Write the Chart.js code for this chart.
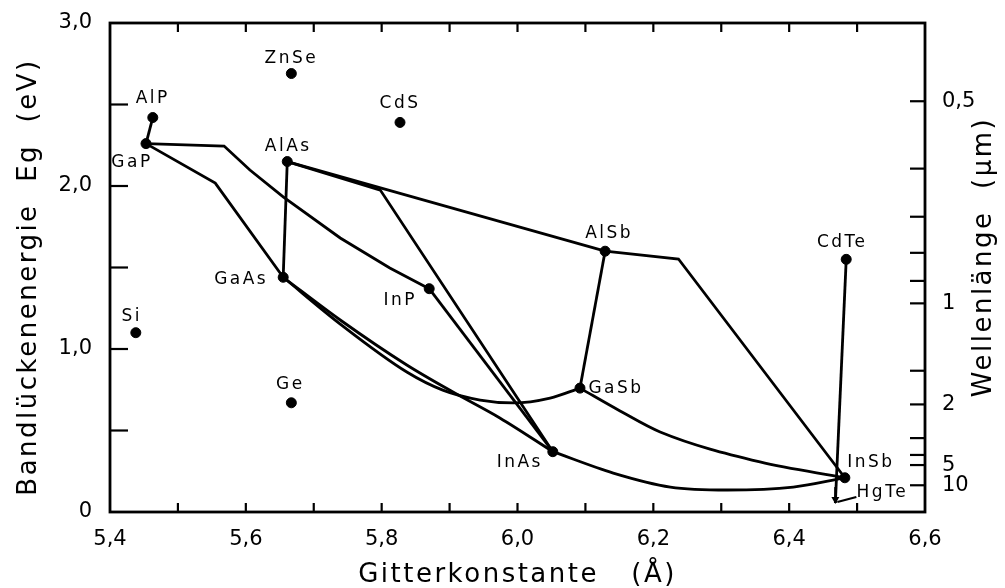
<!DOCTYPE html>
<html>
<head>
<meta charset="utf-8">
<script src="https://cdn.jsdelivr.net/npm/chart.js@4.4.1/dist/chart.umd.min.js"></script>
<style>
  html, body { margin: 0; padding: 0; background: #fff; }
  #wrap { width: 1005px; height: 588px; position: relative; }
</style>
</head>
<body>
<div id="wrap"><canvas id="chart"></canvas></div>
<script>
// Verbindungen: Gitterkonstante (Å) und Bandlücke (eV)
const compounds    = ['AlP', 'GaP', 'ZnSe', 'AlAs', 'CdS', 'Si', 'GaAs', 'Ge', 'InP', 'AlSb', 'GaSb', 'InAs', 'CdTe', 'InSb', 'HgTe'];
const latticeConst = [5.463, 5.453, 5.667, 5.661, 5.827, 5.438, 5.655, 5.667, 5.870, 6.129, 6.092, 6.052, 6.484, 6.482, 6.468];
const bandGap      = [2.42, 2.26, 2.69, 2.15, 2.39, 1.10, 1.44, 0.67, 1.37, 1.60, 0.76, 0.37, 1.55, 0.21, 0.055];

// Mischkristall-Linien [a, Eg]
const lineAlPGaP   = [[5.463, 2.42], [5.453, 2.26]];
const lineGaPInP   = [[5.453, 2.26], [5.568, 2.245], [5.606, 2.098], [5.655, 1.933], [5.739, 1.681], [5.812, 1.497], [5.870, 1.37]];
const lineGaPGaAs  = [[5.453, 2.26], [5.555, 2.018], [5.655, 1.44]];
const lineAlAsGaAs = [[5.661, 2.15], [5.655, 1.44]];
const lineAlAsAlSb = [[5.661, 2.15], [6.129, 1.60]];
const lineAlAsInAs = [[5.661, 2.15], [5.798, 1.975], [6.052, 0.37]];
const lineInPInAs  = [[5.870, 1.37], [6.052, 0.37]];
const lineAlSbGaSb = [[6.129, 1.60], [6.092, 0.76]];
const lineAlSbInSb = [[6.129, 1.60], [6.237, 1.552], [6.482, 0.21]];
const lineCdTeHgTe = [[6.484, 1.55], [6.468, 0.055]];
const curveGaAsInAs = [[5.655, 1.44], [5.739, 1.178], [5.837, 0.902], [5.905, 0.736], [5.974, 0.577], [6.052, 0.37]];
const curveGaAsGaSb = [[5.655, 1.44], [5.739, 1.153], [5.837, 0.859], [5.890, 0.748], [5.945, 0.687], [5.994, 0.669], [6.048, 0.699], [6.092, 0.76]];
const curveGaSbInSb = [[6.092, 0.76], [6.151, 0.620], [6.210, 0.491], [6.357, 0.307], [6.482, 0.21]];
const curveInAsInSb = [[6.052, 0.37], [6.141, 0.239], [6.225, 0.153], [6.309, 0.135], [6.406, 0.153], [6.482, 0.21]];

// Achsen
const xTickLabels = [5.4, 5.6, 5.8, 6.0, 6.2, 6.4, 6.6];
const yTickLabels = [0, 1, 2, 3];
const waveTicks   = [0.5, 0.6, 0.7, 0.8, 0.9, 1, 1.5, 2, 3, 4, 5, 10];
const waveLabels  = [0.5, 1, 2, 5, 10];
const waveOffset  = 0.04; // Eg = 1.24/λ, Skala im Original leicht verschoben

// Beschriftungsversatz (px) relativ zum Punkt
const labelOffsets = [[0, -19], [-14, 19], [0, -15], [1, -15], [0, -19], [-4, -16], [-42, 2], [-1, -18],
                      [-29, 12], [4, -18], [36, 0], [-33, 11], [-4, -17], [26, -15], [47, -10]];

const FONT = '"DejaVu Sans", sans-serif';
const toXY = arr => arr.map(p => ({ x: p[0], y: p[1] }));
const fmt = v => String(v).replace('.', ',');

function lineSet(pts, curved) {
    return {
        data: toXY(pts),
        showLine: true,
        borderColor: '#000',
        borderWidth: 2.8,
        pointRadius: 0,
        cubicInterpolationMode: curved ? 'monotone' : 'default',
        tension: curved ? 0.4 : 0
    };
}

// feste Achsenbreiten, ohne Zusatzabstand durch Beschriftungen
function fixWidth(w) {
    return s => { s.width = w; s.paddingTop = 0; s.paddingBottom = 0; };
}

const frameAndText = {
    id: 'frameAndText',
    afterDraw(chart) {
        const { ctx, chartArea: a, scales } = chart;
        const seg = (x1, y1, x2, y2) => { ctx.beginPath(); ctx.moveTo(x1, y1); ctx.lineTo(x2, y2); ctx.stroke(); };
        ctx.save();
        ctx.strokeStyle = '#000';
        ctx.fillStyle = '#000';
        ctx.lineWidth = 2.8;
        ctx.strokeRect(a.left, a.top, a.right - a.left, a.bottom - a.top);

        // Striche oben und unten (0,1 Å)
        ctx.lineWidth = 2.2;
        for (let i = 1; i < 12; i++) {
            const px = scales.x.getPixelForValue(5.4 + i * 0.1);
            seg(px, a.bottom, px, a.bottom - 9);
            seg(px, a.top, px, a.top + 9);
        }
        // links (0,5 eV)
        for (let i = 1; i < 6; i++) {
            const py = scales.y.getPixelForValue(i * 0.5);
            seg(a.left, py, a.left + 18, py);
        }
        // rechts Wellenlänge
        waveTicks.forEach(l => {
            const py = scales.y.getPixelForValue(1.24 / l + waveOffset);
            seg(a.right, py, a.right - 15, py);
        });

        // HgTe Pfeil
        const hx = scales.x.getPixelForValue(latticeConst[14]);
        const hy = scales.y.getPixelForValue(bandGap[14]);
        seg(hx, hy - 16, hx, hy);
        seg(hx + 21, hy - 6, hx + 2, hy - 1);
        ctx.beginPath();
        ctx.moveTo(hx, hy + 1); ctx.lineTo(hx - 4, hy - 6); ctx.lineTo(hx + 4, hy - 6); ctx.closePath();
        ctx.fill();

        // Beschriftungen der Punkte
        ctx.font = '17px ' + FONT;
        ctx.letterSpacing = '2.5px';
        ctx.textAlign = 'center';
        ctx.textBaseline = 'middle';
        compounds.forEach((name, i) => {
            const px = scales.x.getPixelForValue(latticeConst[i]) + labelOffsets[i][0];
            const py = scales.y.getPixelForValue(bandGap[i]) + labelOffsets[i][1];
            ctx.fillText(name, px, py);
        });

        // Achsentitel
        ctx.font = '26px ' + FONT;
        ctx.letterSpacing = '2.5px';
        ctx.fillText('Gitterkonstante   (Å)', (a.left + a.right) / 2, 575);
        ctx.save();
        ctx.translate(29, 277);
        ctx.rotate(-Math.PI / 2);
        ctx.fillText('Bandlückenenergie  Eg  (eV)', 0, 0);
        ctx.restore();
        ctx.save();
        ctx.translate(984, 257);
        ctx.rotate(-Math.PI / 2);
        ctx.fillText('Wellenlänge  (µm)', 0, 0);
        ctx.restore();
        ctx.restore();
    }
};

const tickFont = { family: FONT, size: 21 };

new Chart(document.getElementById('chart'), {
    type: 'scatter',
    data: {
        datasets: [
            lineSet(lineAlPGaP), lineSet(lineGaPInP), lineSet(lineGaPGaAs), lineSet(lineAlAsGaAs),
            lineSet(lineAlAsAlSb), lineSet(lineAlAsInAs), lineSet(lineInPInAs), lineSet(lineAlSbGaSb),
            lineSet(lineAlSbInSb), lineSet(lineCdTeHgTe),
            lineSet(curveGaAsInAs, true), lineSet(curveGaAsGaSb, true),
            lineSet(curveGaSbInSb, true), lineSet(curveInAsInSb, true),
            {
                data: latticeConst.slice(0, 14).map((x, i) => ({ x: x, y: bandGap[i] })),
                pointRadius: 5,
                pointBackgroundColor: '#000',
                pointBorderColor: '#000',
                showLine: false
            }
        ]
    },
    options: {
        responsive: true,
        maintainAspectRatio: false,
        animation: false,
        layout: { padding: { top: 23 } },
        plugins: {
            legend: { display: false },
            tooltip: { enabled: false }
        },
        scales: {
            x: {
                type: 'linear',
                min: 5.4,
                max: 6.6,
                afterFit: s => { s.height = 76; s.paddingLeft = 0; s.paddingRight = 0; },
                afterBuildTicks: s => { s.ticks = xTickLabels.map(v => ({ value: v })); },
                grid: { display: false, drawTicks: false },
                border: { display: false },
                ticks: { padding: 15, color: '#000', font: tickFont, autoSkip: false, maxRotation: 0,
                         callback: v => v.toFixed(1).replace('.', ',') }
            },
            y: {
                min: 0,
                max: 3,
                afterFit: fixWidth(110),
                afterBuildTicks: s => { s.ticks = yTickLabels.map(v => ({ value: v })); },
                grid: { display: false, drawTicks: false },
                border: { display: false },
                ticks: { padding: 18, color: '#000', font: tickFont,
                         callback: v => v === 0 ? '0' : v.toFixed(1).replace('.', ',') }
            },
            y2: {
                position: 'right',
                min: 0,
                max: 3,
                afterFit: fixWidth(80),
                afterBuildTicks: s => { s.ticks = waveLabels.map(l => ({ value: 1.24 / l + waveOffset })); },
                grid: { display: false, drawTicks: false },
                border: { display: false },
                ticks: { padding: 17, color: '#000', font: tickFont, autoSkip: false,
                         callback: (v, i) => fmt(waveLabels[i]) }
            }
        }
    },
    plugins: [frameAndText]
});
</script>
</body>
</html>
